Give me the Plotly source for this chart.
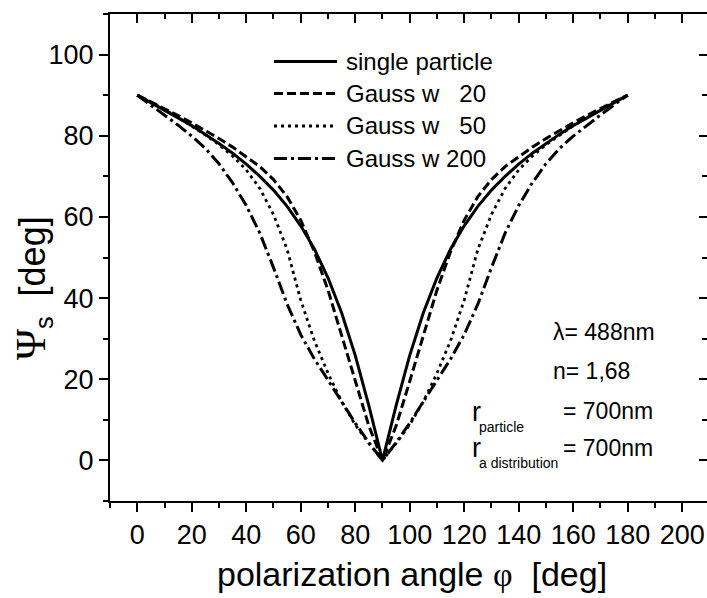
import plotly.graph_objects as go

# polarization angle phi [deg]
phi = [0, 5, 10, 15, 20, 25, 30, 35, 40, 45, 50, 55, 60, 65, 70, 75, 80, 85, 90,
       95, 100, 105, 110, 115, 120, 125, 130, 135, 140, 145, 150, 155, 160, 165, 170, 175, 180]

# Psi_s [deg] for the single particle and the Gaussian size distributions
psi_single = [90, 88.2, 86.3, 84.4, 82.5, 80.4, 78.1, 75.7, 73.0, 70.0, 66.6, 62.6, 57.8, 52.1, 45.0, 36.4, 25.9, 13.5, 0,
              13.5, 25.9, 36.4, 45.0, 52.1, 57.8, 62.6, 66.6, 70.0, 73.0, 75.7, 78.1, 80.4, 82.5, 84.4, 86.3, 88.2, 90]
psi_w20 = [90, 88.4, 86.8, 85.0, 83.2, 81.3, 79.3, 77.2, 74.9, 72.4, 69.2, 65.0, 59.2, 51.5, 42.0, 31.0, 19.5, 8.5, 0,
           8.5, 19.5, 31.0, 42.0, 51.5, 59.2, 65.0, 69.2, 72.4, 74.9, 77.2, 79.3, 81.3, 83.2, 85.0, 86.8, 88.4, 90]
psi_w50 = [90, 88.3, 86.5, 84.5, 82.4, 80.2, 77.8, 75.0, 71.6, 67.0, 60.6, 52.0, 39.5, 29.5, 21.5, 14.5, 8.8, 4.2, 0,
           4.2, 8.8, 14.5, 21.5, 29.5, 39.5, 52.0, 60.6, 67.0, 71.6, 75.0, 77.8, 80.2, 82.4, 84.5, 86.5, 88.3, 90]
psi_w200 = [90, 87.6, 85.1, 82.6, 79.9, 76.9, 73.1, 68.4, 62.8, 56.0, 47.5, 38.5, 31.0, 25.0, 19.8, 14.5, 9.2, 4.4, 0,
            4.4, 9.2, 14.5, 19.8, 25.0, 31.0, 38.5, 47.5, 56.0, 62.8, 68.4, 73.1, 76.9, 79.9, 82.6, 85.1, 87.6, 90]

NB = "\u00a0"
series_names = ["single particle", "Gauss w" + NB * 3 + "20", "Gauss w" + NB * 3 + "50", "Gauss w" + NB + "200"]
series_values = [psi_single, psi_w20, psi_w50, psi_w200]
series_dash = ["solid", "9px,4px", "3px,4px", "13px,4px,3px,4px"]
series_width = [3, 3, 2.8, 3]

x_range = [-10, 209.1]
y_range = [-10, 110]
x_ticks = [0, 20, 40, 60, 80, 100, 120, 140, 160, 180, 200]
y_ticks = [0, 20, 40, 60, 80, 100]

W, H = 707, 598
ML, MR, MT, MB = 110, 0, 14, 97
FONT = "Liberation Sans, Arial, sans-serif"
SERIF = "Liberation Serif"


def px(xp, yp):
    """Pixel position on the page -> paper coordinates."""
    return (xp - ML) / (W - ML - MR), (H - MB - yp) / (H - MT - MB)


fig = go.Figure()
for name, vals, dash, lw in zip(series_names, series_values, series_dash, series_width):
    fig.add_trace(go.Scatter(x=phi, y=vals, mode="lines", name=name,
                             line=dict(color="black", width=lw, dash=dash),
                             showlegend=False))

# helper trace so the mirrored top / right axes are drawn
fig.add_trace(go.Scatter(x=[None], y=[None], xaxis="x2", yaxis="y2",
                         showlegend=False, hoverinfo="skip"))

axis_common = dict(showgrid=False, zeroline=False, linecolor="black", linewidth=2,
                   tickcolor="black", tickwidth=2)
minor_out = dict(dtick=10, tick0=0, ticks="outside", ticklen=5, tickwidth=2, tickcolor="black")
minor_in = dict(dtick=10, tick0=0, ticks="inside", ticklen=5, tickwidth=2, tickcolor="black")

fig.update_layout(
    width=W, height=H,
    margin=dict(l=ML, r=MR, t=MT, b=MB),
    paper_bgcolor="white", plot_bgcolor="white",
    font=dict(family=FONT, color="black"),
    showlegend=False,
    xaxis=dict(range=x_range, tickmode="array", tickvals=x_ticks,
               ticks="outside", ticklen=9, showline=True,
               tickfont=dict(size=27, family=FONT), minor=minor_out, **axis_common),
    yaxis=dict(range=y_range, tickmode="array", tickvals=y_ticks,
               ticks="outside", ticklen=9, showline=True,
               tickfont=dict(size=27, family=FONT), minor=minor_out, **axis_common),
    xaxis2=dict(range=x_range, overlaying="x", side="top", anchor="y",
                tickmode="array", tickvals=x_ticks, ticks="inside", ticklen=9,
                showticklabels=False, showline=True, minor=minor_in, **axis_common),
    yaxis2=dict(range=y_range, overlaying="y", side="right", anchor="x",
                tickmode="array", tickvals=y_ticks, ticks="inside", ticklen=8,
                showticklabels=False, showline=False, minor=minor_in, **axis_common),
)

# legend: line samples and labels
legend_rows = [61.5, 93.5, 126, 158.5]
shapes = []
annotations = []
for name, dash, lw, yrow in zip(series_names, series_dash, series_width, legend_rows):
    x0, y0 = px(274, yrow)
    x1, _ = px(337, yrow)
    shapes.append(dict(type="line", xref="paper", yref="paper", x0=x0, x1=x1, y0=y0, y1=y0,
                       line=dict(color="black", width=lw, dash=dash)))
    tx, ty = px(344, yrow)
    annotations.append(dict(xref="paper", yref="paper", x=tx, y=ty, xanchor="left", yanchor="middle",
                            text=name, showarrow=False, font=dict(size=24, family=FONT)))


def note(text, xp, yp, size, anchor="left"):
    ax, ay = px(xp, yp)
    annotations.append(dict(xref="paper", yref="paper", x=ax, y=ay, xanchor=anchor, yanchor="middle",
                            text=text, showarrow=False, font=dict(size=size, family=FONT)))


# parameters
note("λ= 488nm", 551, 332, 23)
note("n= 1,68", 551, 371, 23)
note("r", 470, 412, 27)
note("particle", 477, 427, 14)
note("= 700nm", 561, 411, 23)
note("r", 470, 448, 27)
note("a distribution", 477, 463, 14)
note("= 700nm", 561, 448, 23)

# axis titles
xt, yt = px(412, 574)
annotations.append(dict(xref="paper", yref="paper", x=xt, y=yt, xanchor="center", yanchor="middle",
                        text="polarization angle <span style=\"font-family:'%s'\">φ</span>  [deg]" % SERIF,
                        showarrow=False, font=dict(size=34, family=FONT)))
yx, yy = px(33, 288)
annotations.append(dict(xref="paper", yref="paper", x=yx, y=yy, xanchor="center", yanchor="middle",
                        textangle=-90,
                        text="<span style=\"font-family:'%s';font-size:42px\">Ψ</span><sub>s</sub>  [deg]" % SERIF,
                        showarrow=False, font=dict(size=36, family=FONT)))

fig.update_layout(shapes=shapes, annotations=annotations)
fig.write_html("out.html")
